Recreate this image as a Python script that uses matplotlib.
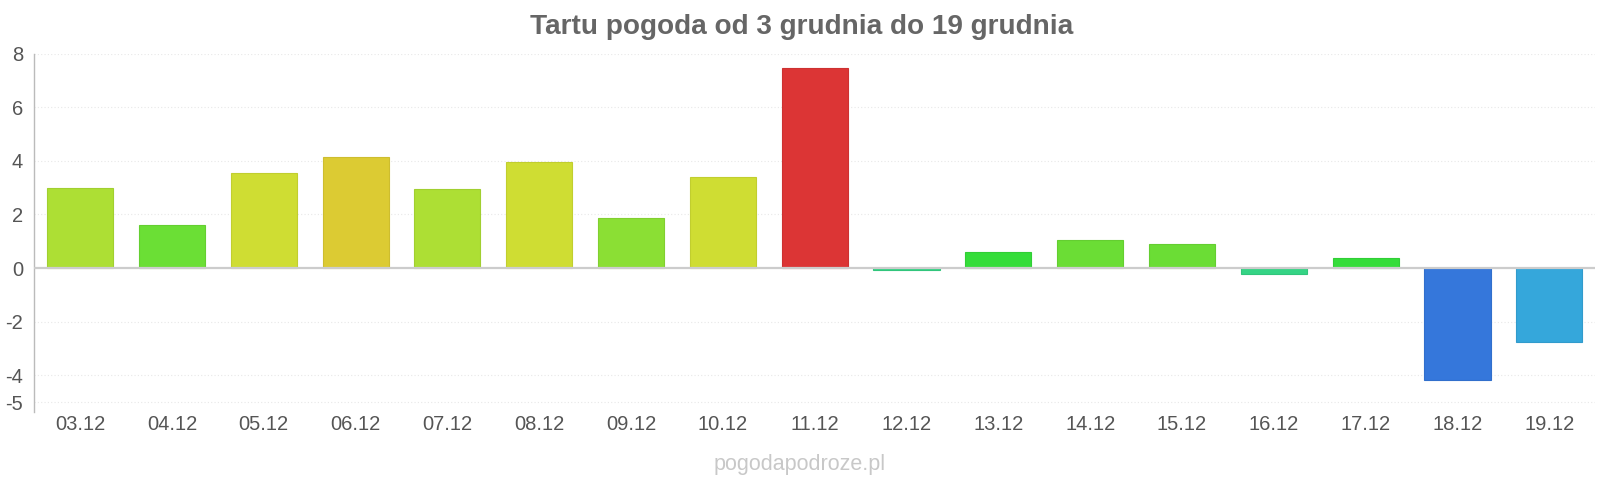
import matplotlib
matplotlib.use("Agg")
import matplotlib.pyplot as plt
import matplotlib.colors as mcolors

# daily values
days = ["03.12", "04.12", "05.12", "06.12", "07.12", "08.12", "09.12", "10.12", "11.12",
        "12.12", "13.12", "14.12", "15.12", "16.12", "17.12", "18.12", "19.12"]
temps = [3.0, 1.6, 3.55, 4.15, 2.95, 3.95, 1.85, 3.4, 7.45,
         -0.07, 0.6, 1.05, 0.9, -0.22, 0.38, -4.18, -2.75]
bar_colors = ["#addf34", "#6bdf35", "#cfdd33", "#dccb33", "#addf34", "#cfdd33", "#8bdf34", "#cfdd33", "#dc3535",
              "#35d485", "#35dd3a", "#6bdd35", "#6bdd35", "#35d485", "#35dd3a", "#3577db", "#35a7db"]
yticks = [-5, -4, -2, 0, 2, 4, 6, 8]

plt.rcParams['font.family'] = ['Liberation Sans', 'DejaVu Sans']

fig = plt.figure(figsize=(16, 4.8), dpi=100)
ax = fig.add_axes([0.0214, 0.1417, 0.9756, 0.7468])

edges = []
for c in bar_colors:
    r, g, b = mcolors.to_rgb(c)
    edges.append((r * 0.93, g * 0.93, b * 0.93))

x = range(len(days))
ax.bar(x, temps, width=0.72, color=bar_colors, edgecolor=edges, linewidth=0.8, zorder=3)

ax.set_xlim(-0.5, len(days) - 0.5)
ax.set_ylim(-5.37, 8)
ax.set_xticks(list(x))
ax.set_xticklabels(days)
ax.set_yticks(yticks)
ax.set_yticklabels([str(t) for t in yticks])
ax.tick_params(axis="both", length=0, labelsize=14.5, colors="#555555")
ax.tick_params(axis="x", pad=2)
ax.tick_params(axis="y", pad=8)

for t in yticks:
    if t != 0:
        ax.axhline(t, color="#e8e8e8", linewidth=0.8, linestyle=(0, (1, 2)), zorder=1)
ax.axhline(0, color="#cccccc", linewidth=1.6, zorder=4)

for s in ["top", "right", "bottom"]:
    ax.spines[s].set_visible(False)
ax.spines["left"].set_color("#bbbbbb")
ax.spines["left"].set_linewidth(1)

fig.text(0.501, 0.943, "Tartu pogoda od 3 grudnia do 19 grudnia", ha="center", va="center",
         fontsize=20.2, fontweight="bold", color="#666666")
fig.text(0.5, 0.033, "pogodapodroze.pl", ha="center", va="center", fontsize=15.5, color="#c8c8c8")

fig.savefig("out.png", dpi=100)
